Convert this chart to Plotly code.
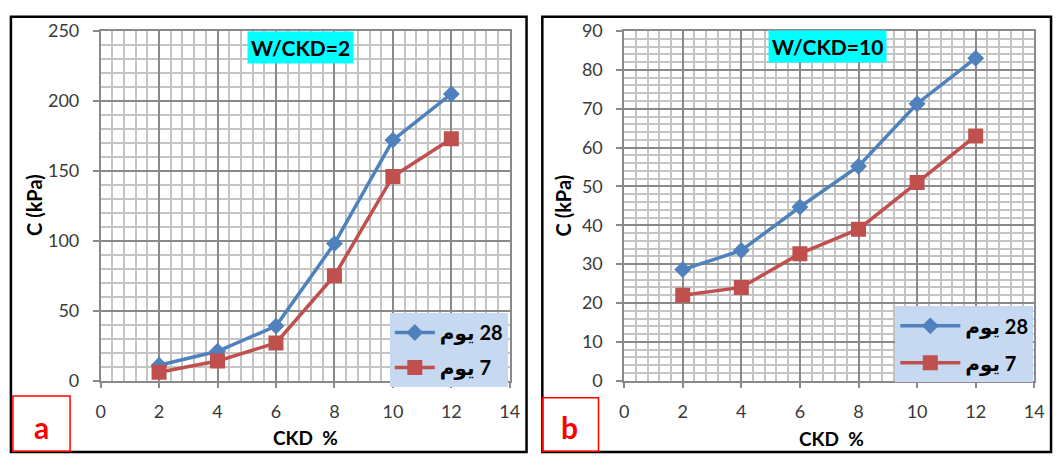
import plotly.graph_objects as go

# ---------------- data ----------------
ckd = [2, 4, 6, 8, 10, 12]
# panel a : W/CKD = 2
a_28 = [11, 21, 39, 98, 172, 205]
a_7 = [6, 14, 27, 75, 146, 173]
# panel b : W/CKD = 10
b_28 = [28.6, 33.5, 44.7, 55.2, 71.3, 83]
b_7 = [22, 24, 32.7, 39, 51, 63]

name_28 = "يوم\u200e 28"
name_7 = "يوم\u200e 7"

W, H = 1064, 464
BLUE = "#4F81BD"
RED = "#C0504D"
FONT = "Lato, DejaVu Sans, sans-serif"


def px(x):
    return x / W


def py(y):
    return 1 - y / H


fig = go.Figure()

for xa, ya, leg, d28, d7 in [("x", "y", "legend", a_28, a_7),
                              ("x2", "y2", "legend2", b_28, b_7)]:
    fig.add_trace(go.Scatter(x=ckd, y=d28, name=name_28, xaxis=xa, yaxis=ya,
                             mode="lines+markers", legend=leg, legendgroup=leg + "a",
                             line=dict(color=BLUE, width=3.5),
                             marker=dict(symbol="diamond", size=13, color=BLUE)))
    fig.add_trace(go.Scatter(x=ckd, y=d7, name=name_7, xaxis=xa, yaxis=ya,
                             mode="lines+markers", legend=leg, legendgroup=leg + "b",
                             line=dict(color=RED, width=3.5),
                             marker=dict(symbol="square", size=15, color=RED)))

MAJ = "#8a8a8a"
MIN = "#c4c4c4"
tickfont = dict(family=FONT, size=18, color="#3a3a3a")


def xax(domain):
    return dict(domain=domain, range=[0, 14], dtick=2, tick0=0,
                showgrid=True, gridcolor=MAJ, gridwidth=1.5,
                minor=dict(dtick=0.4, showgrid=True, gridcolor=MIN, gridwidth=1.5),
                showline=True, linecolor=MAJ, linewidth=1.5, mirror=True,
                ticks="outside", ticklen=6, tickwidth=1.5, tickcolor=MAJ,
                ticklabelstandoff=8, tickfont=tickfont, zeroline=False,
                fixedrange=True)


def yax(domain, rng, dt, mdt, anchor):
    return dict(domain=domain, range=rng, dtick=dt, tick0=0, anchor=anchor,
                showgrid=True, gridcolor=MAJ, gridwidth=1.5,
                minor=dict(dtick=mdt, showgrid=True, gridcolor=MIN, gridwidth=1.5),
                showline=True, linecolor=MAJ, linewidth=1.5, mirror=True,
                ticks="outside", ticklen=6, tickwidth=1.5, tickcolor=MAJ,
                ticklabelstandoff=10, tickfont=tickfont, zeroline=False,
                fixedrange=True)


ydom = [py(387), py(20)]
fig.update_layout(
    width=W, height=H,
    margin=dict(l=0, r=0, t=0, b=0),
    paper_bgcolor="white", plot_bgcolor="white",
    xaxis=dict(xax([px(97), px(512)]), anchor="y"),
    yaxis=yax(ydom, [0, 250], 50, 10, "x"),
    xaxis2=dict(xax([px(628), px(1044)]), anchor="y2"),
    yaxis2=yax(ydom, [0, 90], 10, 2, "x2"),
    legend=dict(x=px(510), xanchor="right", y=py(316), yanchor="top",
                bgcolor="#C6D9F1", font=dict(family=FONT, size=20, color="black", weight="bold"),
                tracegroupgap=6, itemwidth=40, traceorder="grouped"),
    legend2=dict(x=px(1043), xanchor="right", y=py(309), yanchor="top",
                 bgcolor="#C6D9F1", font=dict(family=FONT, size=20, color="black", weight="bold"),
                 tracegroupgap=8, itemwidth=60, traceorder="grouped"),
    showlegend=True,
)

shapes = [
    dict(type="rect", xref="paper", yref="paper", x0=px(6), x1=px(529), y0=py(462), y1=py(5),
         line=dict(color="black", width=2.5)),
    dict(type="rect", xref="paper", yref="paper", x0=px(545), x1=px(1061), y0=py(462), y1=py(5),
         line=dict(color="black", width=2.5)),
    dict(type="rect", xref="paper", yref="paper", x0=px(8), x1=px(66), y0=py(461), y1=py(403),
         line=dict(color="red", width=1.5)),
    dict(type="rect", xref="paper", yref="paper", x0=px(545), x1=px(602), y0=py(461), y1=py(405),
         line=dict(color="red", width=1.5)),
]
fig.update_layout(shapes=shapes)

ann = [
    dict(text="<b>W/CKD=2</b>", x=px(300), y=py(37), bgcolor="#00FFFF",
         font=dict(family=FONT, size=21, color="black"), borderpad=3),
    dict(text="<b>W/CKD=10</b>", x=px(834), y=py(36), bgcolor="#00FFFF",
         font=dict(family=FONT, size=21, color="black"), borderpad=3),
    dict(text="<b>C (kPa)</b>", x=px(30), y=py(203), textangle=-90,
         font=dict(family=FONT, size=20, color="black")),
    dict(text="<b>C (kPa)</b>", x=px(566), y=py(203), textangle=-90,
         font=dict(family=FONT, size=20, color="black")),
    dict(text="<b>CKD\u00a0\u00a0%</b>", x=px(305), y=py(447),
         font=dict(family=FONT, size=19, color="black")),
    dict(text="<b>CKD\u00a0\u00a0%</b>", x=px(838), y=py(448),
         font=dict(family=FONT, size=19, color="black")),
    dict(text="<b>a</b>", x=px(37), y=py(436),
         font=dict(family=FONT, size=30, color="red")),
    dict(text="<b>b</b>", x=px(573), y=py(436),
         font=dict(family=FONT, size=30, color="red")),
]
for a in ann:
    a.update(xref="paper", yref="paper", showarrow=False, xanchor="center", yanchor="middle")
fig.update_layout(annotations=ann)

fig.write_html("out.html")
